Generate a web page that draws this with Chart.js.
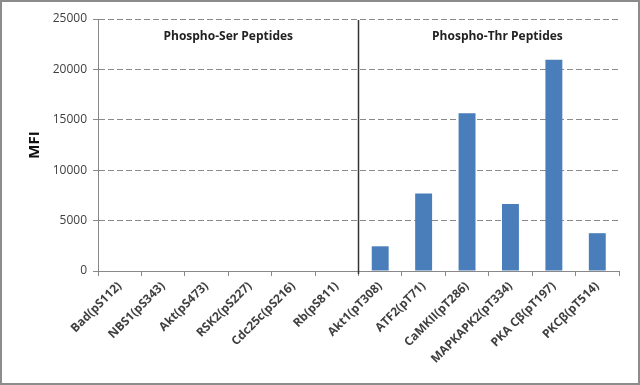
<!DOCTYPE html>
<html>
<head>
<meta charset="utf-8">
<script src="https://cdn.jsdelivr.net/npm/chart.js@4"></script>
<style>
  html, body { margin: 0; padding: 0; background: #fff; }
  #wrap { width: 640px; height: 385px; position: relative; }
</style>
</head>
<body>
<div id="wrap"><canvas id="grafico" width="640" height="385"></canvas></div>
<script>
const categorias = ['Bad(pS112)', 'NBS1(pS343)', 'Akt(pS473)', 'RSK2(pS227)', 'Cdc25c(pS216)', 'Rb(pS811)',
  'Akt1(pT308)', 'ATF2(pT71)', 'CaMKII(pT286)', 'MAPKAPK2(pT334)', 'PKA Cβ(pT197)', 'PKCβ(pT514)'];
const valoresMFI = [0, 0, 0, 0, 0, 0, 2450, 7700, 15650, 6650, 20950, 3750];
const ticksY = [0, 5000, 10000, 15000, 20000, 25000];
const grupos = ['Phospho-Ser Peptides', 'Phospho-Thr Peptides'];

// moldura, divisória e títulos dos grupos
const extras = {
  id: 'extras',
  afterDraw(chart) {
    const { ctx, chartArea, scales: { x } } = chart;
    const divX = (x.getPixelForValue(5) + x.getPixelForValue(6)) / 2;
    ctx.save();
    ctx.strokeStyle = '#333';
    ctx.lineWidth = 1.5;
    ctx.beginPath();
    ctx.moveTo(divX, chartArea.top + 1);
    ctx.lineTo(divX, chartArea.bottom + 3);
    ctx.stroke();

    ctx.fillStyle = '#222';
    ctx.font = 'bold 12px "Open Sans"';
    ctx.textAlign = 'center';
    ctx.textBaseline = 'middle';
    ctx.fillText(grupos[0], x.getPixelForValue(2.5), 37);
    ctx.fillText(grupos[1], x.getPixelForValue(8.7), 37);

    ctx.strokeStyle = '#8c8c8c';
    ctx.lineWidth = 2;
    ctx.strokeRect(1, 1, chart.width - 2, chart.height - 2);
    ctx.restore();
  }
};

new Chart(document.getElementById('grafico'), {
  type: 'bar',
  data: {
    labels: categorias,
    datasets: [{
      label: 'MFI',
      data: valoresMFI,
      backgroundColor: '#4a7ebb',
      barPercentage: 0.39,
      categoryPercentage: 1
    }]
  },
  options: {
    responsive: false,
    animation: false,
    layout: { padding: { top: 19, right: 21, left: 0, bottom: 0 } },
    plugins: { legend: { display: false }, tooltip: { enabled: false } },
    scales: {
      x: {
        afterFit: s => { s.height = 114; },
        grid: { drawOnChartArea: false, drawTicks: true, tickLength: 5, offset: true, color: '#888' },
        border: { display: true, color: '#888', width: 1 },
        ticks: {
          color: '#404040',
          font: { family: 'Open Sans', size: 12, weight: 'bold' },
          maxRotation: 45, minRotation: 45, autoSkip: false, padding: 3
        }
      },
      y: {
        min: 0, max: 25000,
        afterFit: s => { s.width = 98; },
        afterBuildTicks: s => { s.ticks = ticksY.map(v => ({ value: v })); },
        grid: { color: '#8a8a8a', tickLength: 5, tickBorderDash: [], tickColor: '#888' },
        border: { display: true, color: '#888', width: 1, dash: [6, 3] },
        ticks: {
          color: '#404040', font: { family: 'Open Sans', size: 12 }, padding: 6,
          callback: v => String(v)
        },
        title: {
          display: true, text: 'MFI', color: '#111',
          font: { family: 'Open Sans', size: 15, weight: 'bold' }, padding: { top: 26, bottom: 0 }
        }
      }
    }
  },
  plugins: [extras]
});
</script>
</body>
</html>
